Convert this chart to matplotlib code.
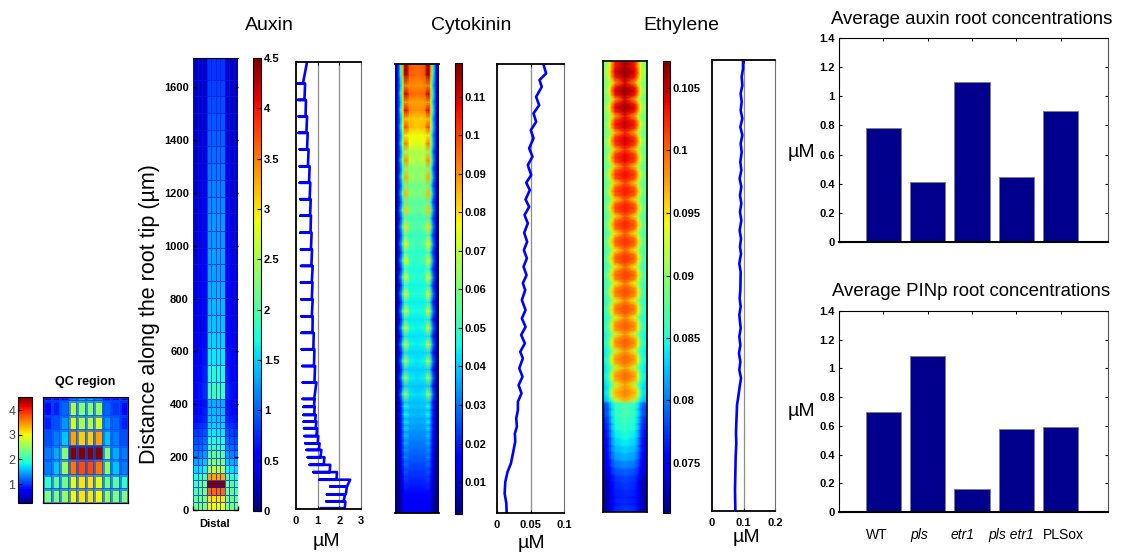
import numpy as np
import matplotlib
matplotlib.use("Agg")
import matplotlib.pyplot as plt
from matplotlib.cm import ScalarMappable
from matplotlib.colors import Normalize

plt.rcParams['font.family'] = ['Liberation Sans', 'DejaVu Sans']

W, H = 1125, 553

# --- QC region cells, top to bottom
qc_rows = [0, 13, 56, 100, 146, 188, 233, 276, 318]
qc_vals = [
    [0.5, 0.6, 0.7, 1.3, 1.5, 1.5, 1.3, 0.7, 0.6, 0.5],
    [0.8, 0.9, 1.2, 2.6, 2.4, 2.4, 2.5, 1.2, 1.0, 0.8],
    [0.9, 1.1, 1.4, 2.8, 2.6, 2.6, 2.8, 1.4, 1.2, 0.9],
    [1.1, 1.3, 1.6, 3.4, 3.2, 3.2, 3.4, 1.6, 1.3, 1.1],
    [1.3, 1.5, 2.4, 4.5, 4.5, 4.5, 4.5, 2.4, 1.5, 1.3],
    [1.3, 1.6, 2.5, 3.6, 3.8, 3.8, 3.6, 2.5, 1.6, 1.3],
    [2.0, 2.2, 2.3, 2.9, 3.1, 3.1, 2.9, 2.3, 2.2, 2.0],
    [2.4, 2.4, 2.5, 3.0, 3.1, 3.1, 3.0, 2.5, 2.4, 2.4],
]

# --- auxin, bottom to top, one entry per cell row
aux_y = [3, 29, 56, 86, 112, 141, 169, 198, 226, 251, 279, 309, 334, 360, 391, 421, 484, 547, 611, 674,
         737, 802, 867, 930, 993, 1057, 1122, 1185, 1248, 1311, 1376, 1439, 1502, 1565, 1628]
aux_tip = [1.14, 1.40, 1.43, 1.58, 1.08, .80, .63, .54, .49, .43, .40, .37, .35, .34, .34, .31, .31, .29, .26, .25,
           .25, .24, .23, .23, .23, .2, .2, .2, .17, .17, .17, .12, .12, .09, .09]
aux_in = [2.25, 2.2, 2.3, 2.35, 1.87, 1.55, 1.28, 1.13, 1.05, 1.0, .94, .91, .88, .84, .83, .84, .85, .83, .8, .76,
          .73, .73, .73, .71, .69, .67, .65, .63, .6, .55, .51, .48, .44, .39, .32]
aux_right = [1.14, 2.28, 2.26, 2.35, 2.5, 1.89, 1.58, 1.31, 1.17, 1.09, 1.03, .97, .94, .91, .86, .86, .94, .88, .85, .82,
             .77, .77, .76, .77, .74, .72, .69, .68, .66, .63, .58, .54, .51, .46, .42]
aux_center = [2.9, 3.0, 3.6, 4.5, 3.3, 2.6, 2.3, 2.1, 1.9, 1.75, 1.6, 1.5, 1.45, 1.4, 1.35, 1.9, 1.75, 1.6, 1.5, 1.45,
              1.4, 1.35, 1.3, 1.3, 1.25, 1.25, 1.2, 1.15, 1.1, 1.05, 1.0, .95, .9, .85, .8]
aux_outer = [2.2, 2.1, 2.0, 1.9, 1.8, 1.5, 1.3, 1.1, 1.0, .9, .8, .7, .6, .55, .5, .55, .5, .45, .42, .4,
             .4, .38, .36, .35, .35, .33, .32, .3, .3, .28, .28, .26, .25, .25, .24]
aux_col_w = [0, .05, .15, 1, 1, 1, 1, .15, .05, 0]
aux_top = 1710
aux_top_x = 0.51

# --- cytokinin
cyto_line_y = [1709, 1674, 1649, 1623, 1585, 1553, 1522, 1490, 1458, 1427, 1389, 1357, 1325, 1287, 1258, 1230, 1194, 1166,
               1135, 1103, 1067, 1033, 1001, 970, 938, 906, 875, 849, 811, 773, 741, 709, 678, 646, 614, 589, 551, 519,
               487, 456, 424, 392, 360, 329, 303, 272, 227, 189, 157, 119, 75, 37, 0]
cyto_line_x = [.0693, .0733, .0634, .0668, .0584, .0629, .0545, .0584, .0505, .0545, .048, .053, .046, .051, .0436, .049, .0426, .048,
               .0411, .046, .0406, .045, .0401, .0446, .0396, .0441, .0386, .0421, .0371, .0426, .0371, .0426, .0361, .0416, .0347, .0386, .0332, .0381,
               .0322, .0366, .0312, .0312, .0287, .0297, .0267, .0272, .0238, .0208, .0158, .0124, .0114, .0139, .0144]
cyto_center = [.014, .014, .015, .018, .02, .022, .024, .026, .028, .03, .032, .034, .036, .038, .039,
               .041, .042, .043, .044, .045, .046, .047, .048, .05, .052, .054, .057, .06, .063, .068, .074, .084, .09, .095, .095]
cyto_edge = [.014, .014, .015, .018, .02, .022, .024, .026, .028, .03, .031, .033, .035, .036, .037,
             .038, .039, .04, .041, .042, .043, .044, .045, .046, .048, .05, .052, .055, .058, .062, .067, .076, .083, .088, .09]
cyto_ridge = [.016, .016, .017, .02, .023, .026, .029, .032, .034, .037, .04, .042, .044, .046, .048,
              .066, .066, .068, .07, .072, .073, .074, .075, .076, .078, .08, .083, .085, .087, .09, .093, .1, .108, .112, .115]
cyto_cols = [0, .06, .13, .18, .22, .27, .33, .5, .67, .73, .78, .82, .87, .94, 1]
cyto_w_ridge = [.03, .12, .42, .75, 1, 1, .1, 0, .1, 1, 1, .75, .42, .12, .03]
cyto_w_center = [0, 0, 0, 0, 0, 0, .9, 1, .9, 0, 0, 0, 0, 0, 0]

# --- ethylene
eth_line_y = [1707, 1677, 1646, 1614, 1583, 1551, 1519, 1488, 1456, 1425, 1393, 1361, 1324, 1292, 1260, 1229, 1197, 1166, 1134, 1102,
              1064, 1033, 1001, 976, 938, 906, 838, 806, 775, 743, 693, 661, 629, 598, 566, 535, 503, 471, 434, 402, 364, 332, 294, 257, 206, 143, 80, 4]
eth_line_x = [.0984, .0984, .0942, .0963, .091, .0942, .091, .0963, .09, .0963, .091, .0942, .09, .0931, .0878, .0931, .0889, .0931, .0889, .0931,
              .0878, .0921, .0889, .0921, .0868, .091, .09, .0878, .091, .0868, .091, .0868, .09, .0857, .09, .0868, .0921, .0878, .0836, .0794, .0783, .0772, .0762, .0772, .0751, .0741, .073, .0741]
eth_center = [.0775, .077, .077, .0775, .078, .079, .0805, .082, .083, .084, .085, .086, .0865, .087, .087,
              .099, .1, .1, .1005, .1005, .101, .101, .1015, .102, .102, .1025, .103, .103, .1035, .104, .1045, .105, .106, .1065, .1065]
eth_outer = [.0722, .072, .072, .0722, .0725, .0735, .074, .0745, .075, .075, .0755, .076, .0765, .0775, .078,
             .083, .084, .0845, .085, .0855, .086, .0865, .087, .087, .0875, .0875, .088, .088, .0885, .0885, .089, .089, .0895, .0895, .09]
eth_cols = [0, .1, .15, .2, .28, .5, .72, .8, .85, .9, 1]
eth_w_mid = [0, .08, .3, .6, .88, 1, .88, .6, .3, .08, 0]
eth_w_quarter = [-.05, .03, .2, .48, .8, .97, .8, .48, .2, .03, -.05]
eth_w_edge = [-.1, 0, .06, .2, .5, .85, .5, .2, .06, 0, -.1]
eth_w_low = [0, .12, .35, .65, .88, 1, .88, .65, .35, .12, 0]

# --- bars
bar_labels = ['WT', 'pls', 'etr1', 'pls etr1', 'PLSox']
bar_styles = ['normal', 'italic', 'italic', 'italic', 'normal']
auxin_avg = [0.78, 0.41, 1.10, 0.445, 0.90]
pin_avg = [0.70, 1.085, 0.16, 0.58, 0.59]


def px_axes(fig, x0, y0, x1, y1):
    return fig.add_axes([x0 / W, 1 - y1 / H, (x1 - x0) / W, (y1 - y0) / H])


def px_text(fig, x, y, s, **kw):
    kw.setdefault('ha', 'center')
    kw.setdefault('va', 'center')
    return fig.text(x / W, 1 - y / H, s, **kw)


def bold_ticks(ax):
    for t in ax.get_xticklabels() + ax.get_yticklabels():
        t.set_fontweight('bold')


def colorbar(fig, box, vmin, vmax, ticks, left=False):
    cax = px_axes(fig, *box)
    sm = ScalarMappable(norm=Normalize(vmin, vmax), cmap='jet')
    cb = fig.colorbar(sm, cax=cax)
    cb.set_ticks(ticks)
    cb.set_ticklabels(['%g' % t for t in ticks])
    cax.tick_params(direction='in', length=3, width=0.8, labelsize=8, pad=2)
    cb.outline.set_linewidth(0.8)
    if left:
        cax.yaxis.set_ticks_position('left')
        cax.tick_params(labelsize=9, labelcolor='#444444')
    else:
        bold_ticks(cax)
    return cax


def line_panel(fig, box, xs, ys, xmax, xticks, grid):
    ax = px_axes(fig, *box)
    ax.plot(xs, ys, color=(0, 0, 1), lw=1.9, solid_joinstyle='round')
    ax.set_xlim(0, xmax)
    ax.set_ylim(0, 1710)
    ax.set_xticks(xticks)
    ax.set_xticklabels(['%g' % t for t in xticks])
    ax.set_yticks([])
    for g in grid:
        ax.axvline(g, color='#8c8c8c', lw=0.9, zorder=0)
    ax.tick_params(axis='x', direction='in', top=True, length=2.5, width=0.8, labelsize=8, pad=5)
    bold_ticks(ax)
    for s in ('left', 'bottom', 'top'):
        ax.spines[s].set_linewidth(1.3)
    ax.spines['right'].set_color('#707070')
    return ax


def bar_panel(fig, box, vals):
    ax = px_axes(fig, *box)
    pos = np.arange(1, len(vals) + 1)
    ax.bar(pos, vals, width=0.8, color='#00008c', edgecolor='#808080', linewidth=0.7)
    ax.set_xlim(0, 6.07)
    ax.set_ylim(0, 1.4)
    ax.set_yticks(np.arange(0, 1.41, 0.2))
    ax.set_yticklabels(['%g' % round(t, 1) for t in np.arange(0, 1.41, 0.2)])
    ax.set_xticks(pos)
    ax.set_xticklabels([])
    ax.tick_params(axis='y', direction='in', right=True, length=2.5, width=0.8, labelsize=8, pad=3)
    ax.tick_params(axis='x', direction='in', top=True, bottom=False, length=2, width=0.7)
    bold_ticks(ax)
    ax.spines['bottom'].set_linewidth(1.5)
    ax.spines['right'].set_color('#505050')
    return ax


fig = plt.figure(figsize=(W / 100, H / 100), dpi=100)

# QC region
colorbar(fig, (18, 397, 32, 503), 0.23, 4.53, [1, 2, 3, 4], left=True)
ax = px_axes(fig, 43, 397, 128, 503)
ax.pcolormesh(np.arange(11), qc_rows, np.array(qc_vals), cmap='jet', vmin=0.23, vmax=4.53,
              edgecolors=(0, 0.3, 0.95, 0.6), linewidth=0.9)
ax.set_ylim(qc_rows[-1], 0)
ax.set_xlim(0, 10)
ax.set_xticks([0, 10])
ax.set_yticks([])
ax.set_xticklabels([])
ax.tick_params(direction='in', top=True, length=2)
px_text(fig, 85, 382, 'QC region', fontsize=9, fontweight='bold')

# auxin cells
aux_edges = [0] + aux_y[1:] + [aux_top]
aux_m = np.array([[o + (c - o) * w for w in aux_col_w] for c, o in zip(aux_center, aux_outer)])
ax = px_axes(fig, 193, 58, 238, 510)
ax.pcolormesh(np.arange(11), aux_edges, aux_m, cmap='jet', vmin=0, vmax=4.5,
              edgecolors=(0, 0.1, 0.85, 0.7), linewidth=0.6)
ax.set_xlim(0, 10)
ax.set_ylim(0, aux_top)
ax.set_yticks(range(0, 1601, 200))
ax.set_xticks([0, 10])
ax.set_xticklabels([])
ax.tick_params(direction='in', right=True, top=False, length=3, width=1, labelsize=8, pad=3)
bold_ticks(ax)
for s in ('left', 'right'):
    ax.spines[s].set_visible(False)
px_text(fig, 215, 524, 'Distal', fontsize=8, fontweight='bold')
colorbar(fig, (253, 58, 261, 511), 0, 4.5, [0, .5, 1, 1.5, 2, 2.5, 3, 3.5, 4, 4.5])

xs, ys = [aux_top_x], [aux_top]
for i in range(len(aux_y) - 1, -1, -1):
    xs += [aux_in[i], aux_tip[i], aux_right[i]]
    ys += [aux_y[i], aux_y[i], aux_y[i]]
line_panel(fig, (296, 62, 361, 509), xs, ys, 3, [0, 1, 2, 3], [1, 2])

# cytokinin map, one row for the boundary of a cell and one for its middle
rows_y = []
rows_v = []
for i in range(len(cyto_center)):
    c, e, r = cyto_center[i], cyto_edge[i], cyto_ridge[i]
    rows_y += [aux_edges[i], (aux_edges[i] + aux_edges[i + 1]) / 2]
    rows_v.append([e * a + e * b for a, b in zip(cyto_w_ridge, cyto_w_center)])
    rows_v.append([r * a + c * b for a, b in zip(cyto_w_ridge, cyto_w_center)])
rows_y.append(aux_top)
rows_v.append(rows_v[-1])
ax = px_axes(fig, 395, 64, 439, 513)
ax.pcolormesh(cyto_cols, rows_y, np.array(rows_v), cmap='jet', vmin=.0017, vmax=.1188, shading='gouraud')
ax.set_xticks([])
ax.set_yticks([])
for s in ('left', 'right'):
    ax.spines[s].set_visible(False)
ax.spines['bottom'].set_linewidth(1.3)
ax.spines['top'].set_linewidth(1.3)
colorbar(fig, (455, 63, 462, 514), .0017, .1188, [.01, .02, .03, .04, .05, .06, .07, .08, .09, .1, .11])
line_panel(fig, (497, 64, 564, 513), cyto_line_x, cyto_line_y, 0.1, [0, .05, .1], [.05])

# ethylene map, four rows per cell, the cells below 421 have almost no contrast
rows_y = []
rows_v = []
for i in range(len(eth_center)):
    c, o = eth_center[i], eth_outer[i]
    a, b = aux_edges[i], aux_edges[i + 1]
    rows_y += [a, a + (b - a) * .25, a + (b - a) * .5, a + (b - a) * .75]
    for wset in (eth_w_edge, eth_w_quarter, eth_w_mid, eth_w_quarter):
        if i < 15:
            wset = eth_w_low if wset is not eth_w_edge else eth_w_quarter
        rows_v.append([o + (c - o) * w for w in wset])
rows_y.append(aux_top)
rows_v.append(rows_v[-1])
ax = px_axes(fig, 603, 61, 647, 512)
ax.pcolormesh(eth_cols, rows_y, np.array(rows_v), cmap='jet', vmin=.071, vmax=.10716, shading='gouraud')
ax.set_xticks([])
ax.set_yticks([])
for s in ax.spines.values():
    s.set_linewidth(1.2)
colorbar(fig, (663, 61, 670, 513), .071, .10716, [.075, .08, .085, .09, .095, .1, .105])
line_panel(fig, (712, 60, 775, 511), eth_line_x, eth_line_y, 0.2, [0, .1, .2], [.1])

# bars
bar_panel(fig, (839, 38, 1108, 242), auxin_avg)
bar_panel(fig, (839, 311, 1108, 512), pin_avg)
for x, lab, st in zip([877, 919, 963, 1011, 1063], bar_labels, bar_styles):
    px_text(fig, x, 535, lab, fontsize=10, style=st)

# text around the panels
px_text(fig, 269, 25, 'Auxin', fontsize=14)
px_text(fig, 471, 25, 'Cytokinin', fontsize=14)
px_text(fig, 681, 25, 'Ethylene', fontsize=14)
px_text(fig, 972, 20, 'Average auxin root concentrations', fontsize=13.4)
px_text(fig, 971, 291, 'Average PINp root concentrations', fontsize=13.4)
px_text(fig, 150, 314, 'Distance along the root tip (\u00b5m)', fontsize=15.5, rotation=90)
px_text(fig, 326, 541, '\u00b5M', fontsize=14)
px_text(fig, 531, 543, '\u00b5M', fontsize=14)
px_text(fig, 746, 538, '\u00b5M', fontsize=14)
px_text(fig, 801, 152, '\u00b5M', fontsize=14)
px_text(fig, 801, 411, '\u00b5M', fontsize=14)

fig.savefig('out.png', dpi=100)
